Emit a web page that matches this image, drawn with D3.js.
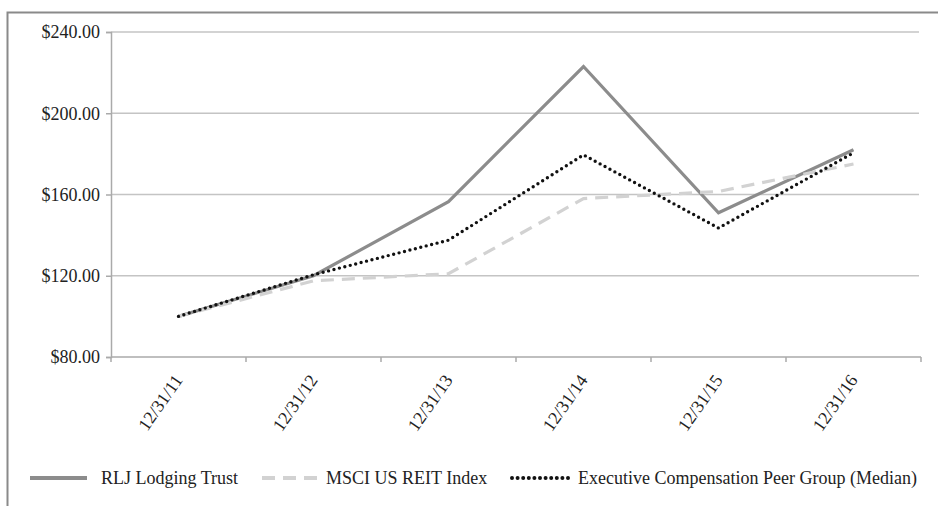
<!DOCTYPE html>
<html><head><meta charset="utf-8">
<script src="https://cdn.jsdelivr.net/npm/d3@7"></script>
<style>body{margin:0;background:#fff}svg{display:block}text{font-family:"Liberation Serif","Times New Roman",serif;fill:#222}</style>
</head><body><svg id="c" width="938" height="506"></svg>
<script>
const categories = ["12/31/11","12/31/12","12/31/13","12/31/14","12/31/15","12/31/16"];
const rlj  = [100, 120, 156.5, 223, 151, 182];
const msci = [100, 117.5, 121, 158, 161.5, 175];
const peer = [100, 120.5, 137.5, 179.5, 143.5, 180.5];
const yTicks = [80, 120, 160, 200, 240];
const seriesNames = ["RLJ Lodging Trust", "MSCI US REIT Index", "Executive Compensation Peer Group (Median)"];

const svg = d3.select("#c");
const L = 111, R = 921, T = 32, B = 357;
// frame
svg.append("path").attr("d", "M7.5,520 V12.5 H950").attr("fill","none").attr("stroke","#8a8a8a").attr("stroke-width",2);

const x = d3.scaleBand().domain(categories).range([L, R]);
const y = d3.scaleLinear().domain([80, 240]).range([B, T]);

// gridlines
svg.append("g").selectAll("line").data(yTicks.slice(1)).join("line")
  .attr("x1", L).attr("x2", 919).attr("y1", d => y(d)).attr("y2", d => y(d))
  .attr("stroke", "#c4c4c4").attr("stroke-width", 1.5);

// y axis
const ya = svg.append("g").attr("transform", `translate(${L},0)`)
  .call(d3.axisLeft(y).tickValues(yTicks).tickSize(5).tickPadding(6).tickFormat(d => "$" + d3.format(".2f")(d)));
ya.select(".domain").attr("stroke", "#aaa").attr("stroke-width", 1.5);
ya.selectAll(".tick line").attr("stroke", "#aaa").attr("stroke-width", 1.5);
ya.selectAll("text").style("font-family", '"Liberation Serif",serif').style("font-size", "18px").attr("fill", "#222");

// x axis
svg.append("line").attr("x1", L).attr("x2", R).attr("y1", B).attr("y2", B).attr("stroke", "#aaa").attr("stroke-width", 1.5);
const bounds = categories.map(c => x(c)).concat([R]);
svg.append("g").selectAll("line").data(bounds).join("line")
  .attr("x1", d => d).attr("x2", d => d).attr("y1", B).attr("y2", B + 5)
  .attr("stroke", "#aaa").attr("stroke-width", 1.5);
svg.append("g").selectAll("text").data(categories).join("text")
  .attr("text-anchor", "end")
  .attr("transform", d => `translate(${x(d) + x.bandwidth()/2 + 5},${B + 23}) rotate(-55)`)
  .style("font-size", "18px").text(d => d);

const line = d3.line().x((d, i) => x(categories[i]) + x.bandwidth()/2).y(d => y(d));
const styles = [
  {stroke: "#8c8c8c", width: 3.2, dash: null, cap: "butt"},
  {stroke: "#d2d2d2", width: 3.2, dash: "13,8", cap: "butt"},
  {stroke: "#111", width: 3.4, dash: "0,5.6", cap: "round"}
];
[rlj, msci, peer].forEach((s, k) => {
  svg.append("path").datum(s).attr("d", line).attr("fill", "none")
    .attr("stroke", styles[k].stroke).attr("stroke-width", styles[k].width)
    .attr("stroke-dasharray", styles[k].dash).attr("stroke-linecap", styles[k].cap)
    .attr("stroke-linejoin", "miter");
});

// legend
const legLine = [30, 262, 512];
const legText = [101, 326, 578];
const lg = svg.append("g");
seriesNames.forEach((n, k) => {
  lg.append("line").attr("x1", legLine[k]).attr("x2", legLine[k] + 57).attr("y1", 478).attr("y2", 478)
    .attr("stroke", styles[k].stroke).attr("stroke-width", styles[k].width + 0.6)
    .attr("stroke-dasharray", styles[k].dash).attr("stroke-linecap", styles[k].cap);
  lg.append("text").attr("x", legText[k]).attr("y", 484).style("font-size", "18px").text(n);
});
</script></body></html>
